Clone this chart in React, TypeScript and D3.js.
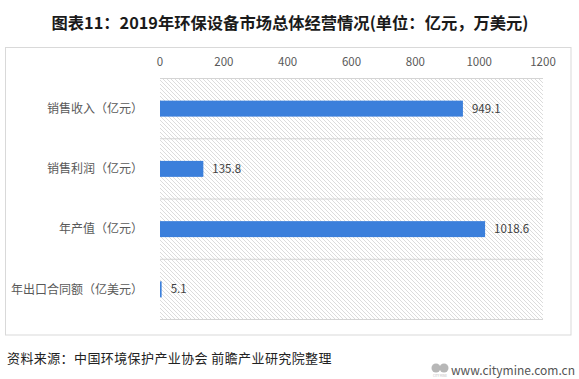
import React from "react";
import * as d3 from "d3";

const categories = ["销售收入（亿元）", "销售利润（亿元）", "年产值（亿元）", "年出口合同额（亿美元）"];
const values = [949.1, 135.8, 1018.6, 5.1];
const valueLabels = ["949.1", "135.8", "1018.6", "5.1"];
const ticks = [0, 200, 400, 600, 800, 1000, 1200];
const title = "图表11：2019年环保设备市场总体经营情况(单位：亿元，万美元)";
const source = "资料来源：中国环境保护产业协会 前瞻产业研究院整理";
const site = "www.citymine.com.cn";

const W = 579;
const H = 379;
const FONT = "'Noto Sans CJK SC', 'Noto Sans', sans-serif";

export default function App() {
  const x = d3.scaleLinear().domain([0, 1200]).range([160, 543]);
  const y = d3.scaleBand<string>().domain(categories).range([78.5, 319.5]).paddingInner(0.735).paddingOuter(0.3675);
  const bandStep = y.step();
  const boundaries = d3.range(categories.length + 1).map((i) => 78.5 + i * bandStep);

  return (
    <div style={{ position: "absolute", left: 0, top: 0 }}>
      <svg width={W} height={H} style={{ display: "block", background: "#fff" }}>
        <defs>
          <pattern id="hatch" width="4" height="4" patternUnits="userSpaceOnUse">
            <rect width="4" height="4" fill="#ffffff" />
            <path d="M-1,-1 L5,5 M-1,3 L1,5 M3,-1 L5,1" stroke="#d3d3d3" strokeWidth="0.8" />
          </pattern>
        </defs>
        <text x={290} y={29} textAnchor="middle" fontFamily={FONT} fontWeight="bold" fontSize={16.3} fill="#1a1a1a">
          {title}
        </text>
        <rect x={5.5} y={47.5} width={565.5} height={287.5} fill="#fff" stroke="#d9d9d9" />
        <rect x={x(0)} y={78.5} width={x(1200) - x(0)} height={241} fill="url(#hatch)" />
        {boundaries.map((b, i) => (
          <line key={i} x1={x(0)} x2={x(1200)} y1={b} y2={b} stroke="#d4d4d4" strokeWidth={1} />
        ))}
        {ticks.map((t) => (
          <text key={t} x={x(t)} y={65.5} textAnchor="middle" fontFamily={FONT} fontSize={11.5} fill="#595959">
            {t}
          </text>
        ))}
        {categories.map((c, i) => {
          const by = (y(c) as number);
          const bh = y.bandwidth();
          return (
            <g key={c}>
              <rect x={x(0)} y={by} width={Math.max(1.5, x(values[i]) - x(0))} height={bh} fill="#3b7fdb" />
              <text x={143} y={by + bh / 2 + 4.2} textAnchor="end" fontFamily={FONT} fontSize={12} fill="#595959">
                {c}
              </text>
              <text x={x(values[i]) + 9} y={by + bh / 2 + 4} fontFamily={FONT} fontSize={11.5} fill="#404040">
                {valueLabels[i]}
              </text>
            </g>
          );
        })}
        <text x={7} y={362.5} fontFamily={FONT} fontSize={13} fill="#222" letterSpacing={0.4}>
          {source}
        </text>
        <g opacity={0.6}>
          <circle cx={436} cy={368} r={4.5} fill="#888" />
          <circle cx={444} cy={368} r={4.5} fill="#888" />
          <text x={440} y={377} textAnchor="middle" fontSize={3} fontFamily={FONT} fill="#888">CITY MINE</text>
        </g>
        <text x={575} y={375} textAnchor="end" fontFamily={FONT} fontSize={12} fill="#555">
          {site}
        </text>
      </svg>
    </div>
  );
}
